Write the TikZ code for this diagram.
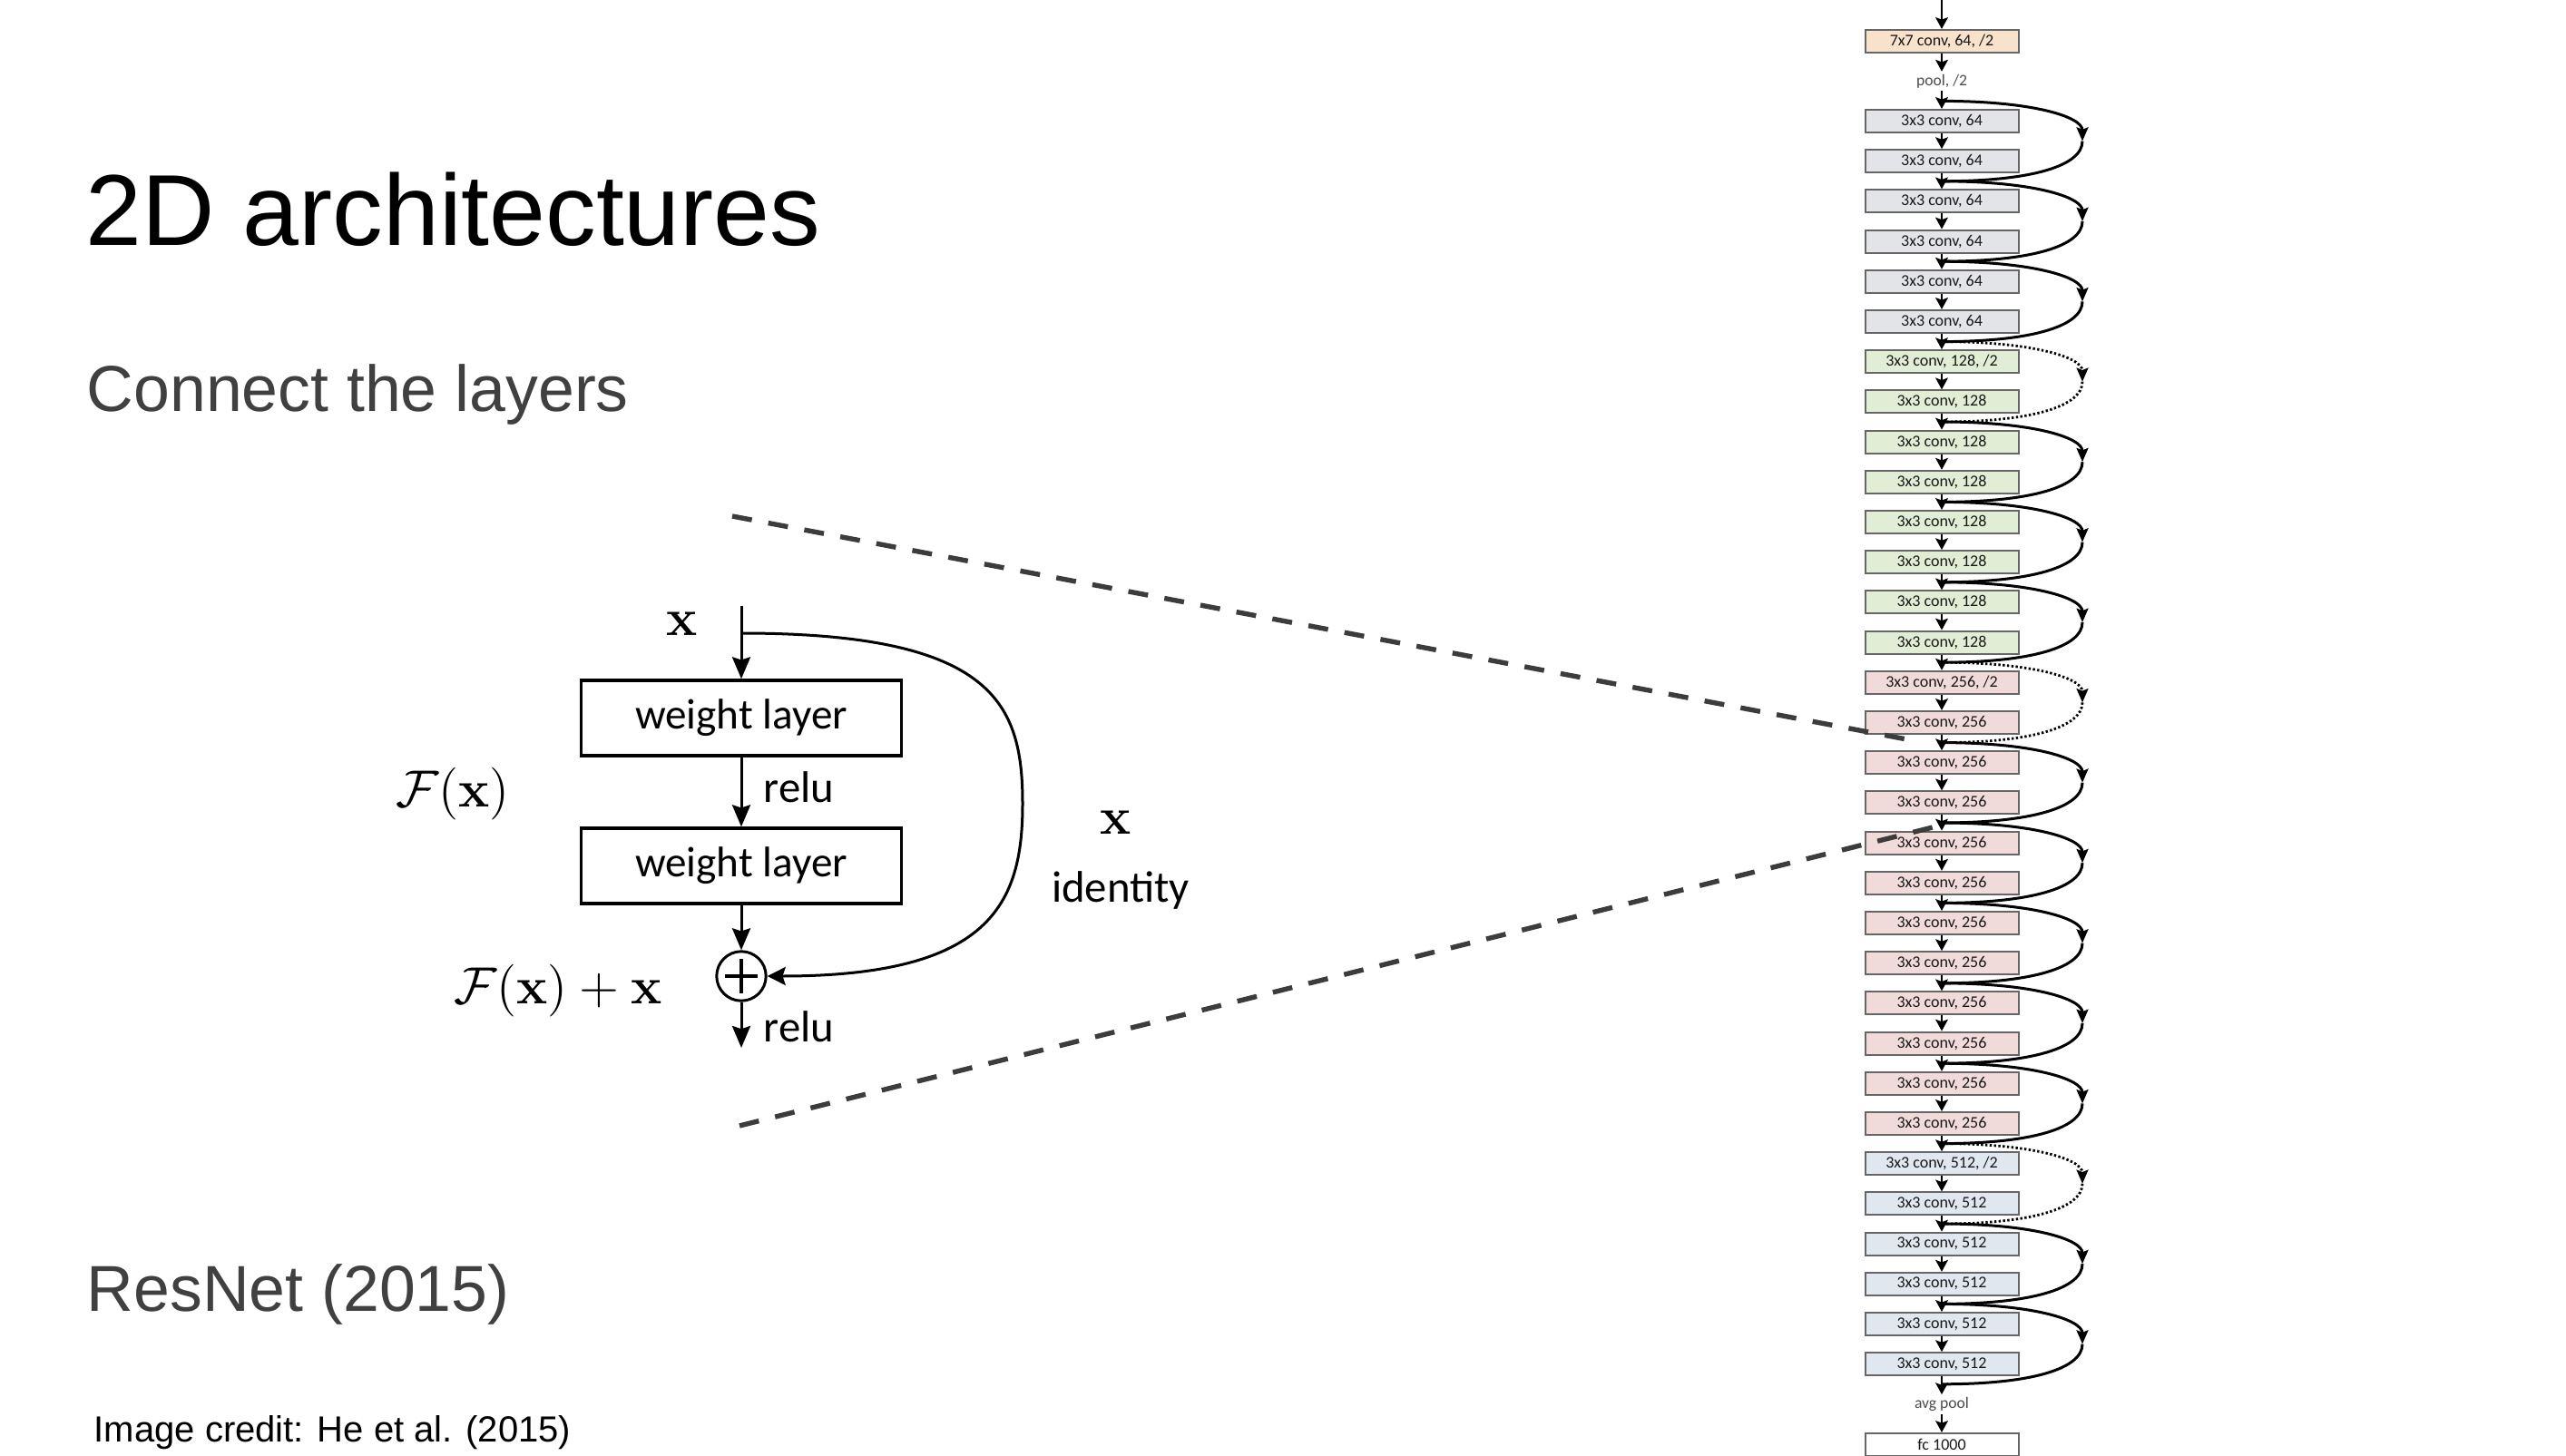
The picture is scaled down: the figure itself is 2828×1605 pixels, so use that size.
\documentclass[tikz,border=0pt]{standalone}
\usepackage[no-math]{fontspec}
\setmainfont{Liberation Sans}
\newfontfamily\calib{Carlito}
\usetikzlibrary{arrows.meta}
\definecolor{c7col}{HTML}{F8E2CB}
\definecolor{c64col}{HTML}{E2E4E8}
\definecolor{c128col}{HTML}{E2EDD6}
\definecolor{c256col}{HTML}{F1DADA}
\definecolor{c512col}{HTML}{E1E7EE}
\definecolor{dashcol}{HTML}{3C3C3C}
\definecolor{subcol}{HTML}{404040}
\begin{document}
\begin{tikzpicture}[x=0.25pt,y=-0.25pt,
  layer/.style={draw=black!60, line width=0.5pt, minimum width=42.25pt, minimum height=6.25pt,
    inner sep=0pt, font=\calib\fontsize{4.5pt}{5pt}\selectfont, text=black!90},
  plain/.style={inner sep=0.6pt, font=\calib\fontsize{4.4pt}{5pt}\selectfont, text=black!70},
  colarrow/.style={-{Stealth[length=3.2pt,width=3.4pt,inset=0.6pt]}, line width=0.7pt},
  skipline/.style={line width=0.75pt},
  skipdot/.style={line width=0.7pt, dash pattern=on 0.6pt off 0.6pt},
  skiphead/.style={-{Stealth[length=3.8pt,width=3.2pt,inset=0.6pt]}},
  wbox/.style={draw, line width=0.85pt, minimum width=88.25pt, minimum height=20.75pt,
    inner sep=0pt, font=\calib\fontsize{11.8pt}{14pt}\selectfont},
  barrow/.style={-{Stealth[length=6pt,width=5pt,inset=0.8pt]}, line width=0.75pt},
  lbl/.style={inner sep=0pt, font=\calib\fontsize{12.2pt}{14pt}\selectfont},
  mth/.style={inner sep=0pt, font=\fontsize{14pt}{16pt}\selectfont},
  dline/.style={draw=dashcol, line width=1.35pt, dash pattern=on 5.5pt off 4.6pt}
]
\useasboundingbox[fill=white] (0,0) rectangle (2828,1605);

% ---- slide texts
\node[anchor=base west, inner sep=0pt, font=\fontsize{27.8pt}{32pt}\selectfont] (title) at (94,270) {2D architectures};
\node[anchor=base west, inner sep=0pt, text=subcol, font=\fontsize{17.9pt}{21pt}\selectfont] (sub) at (95,454) {Connect the layers};
\node[anchor=base west, inner sep=0pt, text=subcol, font=\fontsize{17.9pt}{21pt}\selectfont] (resnet) at (95,1445) {ResNet (2015)};
\node[anchor=base west, inner sep=0pt, font=\fontsize{10pt}{12pt}\selectfont] (credit) at (103,1589) {Image credit: He et al. (2015)};

% ---- ResNet-34 column
\coordinate (colin) at (2140,-10);
\node[layer, fill=c7col] (c7) at (2140,45.5) {7x7 conv, 64, /2};
\node[plain] (pool) at (2140,89.5) {pool, /2};
\foreach \i in {0,...,31}{
  \ifnum\i<6 \def\lab{3x3 conv, 64}\def\fc{c64col}\else
  \ifnum\i=6 \def\lab{3x3 conv, 128, /2}\def\fc{c128col}\else
  \ifnum\i<14 \def\lab{3x3 conv, 128}\def\fc{c128col}\else
  \ifnum\i=14 \def\lab{3x3 conv, 256, /2}\def\fc{c256col}\else
  \ifnum\i<26 \def\lab{3x3 conv, 256}\def\fc{c256col}\else
  \ifnum\i=26 \def\lab{3x3 conv, 512, /2}\def\fc{c512col}\else
  \def\lab{3x3 conv, 512}\def\fc{c512col}\fi\fi\fi\fi\fi\fi
  \node[layer, fill=\fc] (b\i) at (2140,{133.5+44.2*\i}) {\lab};
}
\node[plain] (avg) at (2140,1548) {avg pool};
\node[layer, fill=white] (fc) at (2140,1592.5) {fc 1000};

% gap coordinates (G_j above box j) and right turning points
\foreach \j in {0,...,32}{
  \coordinate (G\j) at (2140,{133.5+44.2*\j-22.1});
  \coordinate (R\j) at (2295,{133.5+44.2*\j-22.1});
}

\draw[colarrow] (colin) -- (c7.north);
\draw[colarrow] (c7.south) -- (pool.north);
\draw[colarrow] (pool.south) -- (b0.north);
\foreach \i in {0,...,30}{
  \pgfmathtruncatemacro\nx{\i+1}
  \draw[colarrow] (b\i.south) -- (b\nx.north);
}
\draw[colarrow] (b31.south) -- (avg.north);
\draw[colarrow] (avg.south) -- (fc.north);

% skip connections
\foreach \k in {0,...,15}{
  \pgfmathtruncatemacro\a{2*\k}
  \pgfmathtruncatemacro\m{2*\k+1}
  \pgfmathtruncatemacro\c{2*\k+2}
  \ifnum\k=3
    \draw[skipdot, skiphead] (G\a) .. controls +(100,0) and +(0,-27) .. (R\m);
    \draw[skipdot] (R\m) .. controls +(0,27) and +(100,0) .. (G\c);
  \else\ifnum\k=7
    \draw[skipdot, skiphead] (G\a) .. controls +(100,0) and +(0,-27) .. (R\m);
    \draw[skipdot] (R\m) .. controls +(0,27) and +(100,0) .. (G\c);
  \else\ifnum\k=13
    \draw[skipdot, skiphead] (G\a) .. controls +(100,0) and +(0,-27) .. (R\m);
    \draw[skipdot] (R\m) .. controls +(0,27) and +(100,0) .. (G\c);
  \else
    \draw[skipline, skiphead] (G\a) .. controls +(100,0) and +(0,-27) .. (R\m);
    \draw[skipline] (R\m) .. controls +(0,27) and +(100,0) .. (G\c);
  \fi\fi\fi
}

% ---- residual block
\coordinate (xin) at (817,668);
\coordinate (sk) at (817,698);
\coordinate (rt) at (1127,886);
\coordinate (xout) at (817,1155);
\node[wbox] (wl1) at (817,791.5) {weight layer};
\node[wbox] (wl2) at (817,954.5) {weight layer};
\node[draw, circle, line width=0.75pt, minimum size=13.6pt, inner sep=0pt] (plus) at (817,1076) {};
\draw[line width=0.8pt] (plus.center) +(-18,0) -- +(18,0) +(0,-19) -- +(0,19);

\draw[barrow] (xin) -- (wl1.north);
\draw[barrow] (wl1.south) -- (wl2.north);
\draw[barrow] (wl2.south) -- (plus.north);
\draw[barrow] (plus.south) -- (xout);
\draw[line width=0.75pt] (sk) .. controls (1096,698) and (1127,776) .. (rt);
\draw[line width=0.75pt, -{Stealth[length=5pt,width=5pt,inset=0.8pt]}] (rt) .. controls (1127,996) and (1092,1076) .. (plus.east);

\node[mth] (xlab) at (752,688) {$\mathbf{x}$};
\node[mth] (fx) at (499,875) {$\mathcal{F}(\mathbf{x})$};
\node[mth] (fxx) at (615,1092) {$\mathcal{F}(\mathbf{x})+\mathbf{x}$};
\node[mth] (xid) at (1230,907) {$\mathbf{x}$};
\node[lbl] (ident) at (1235,981) {identity};
\node[lbl, anchor=west] (relu1) at (841,868) {relu};
\node[lbl, anchor=west] (relu2) at (841,1132) {relu};

% ---- zoom lines
\coordinate (dA) at (807,569);
\coordinate (dB) at (2112,817);
\coordinate (dC) at (815,1241);
\coordinate (dD) at (2138,910);
\draw[dline] (dA) -- (dB);
\draw[dline] (dC) -- (dD);
\end{tikzpicture}
\end{document}
